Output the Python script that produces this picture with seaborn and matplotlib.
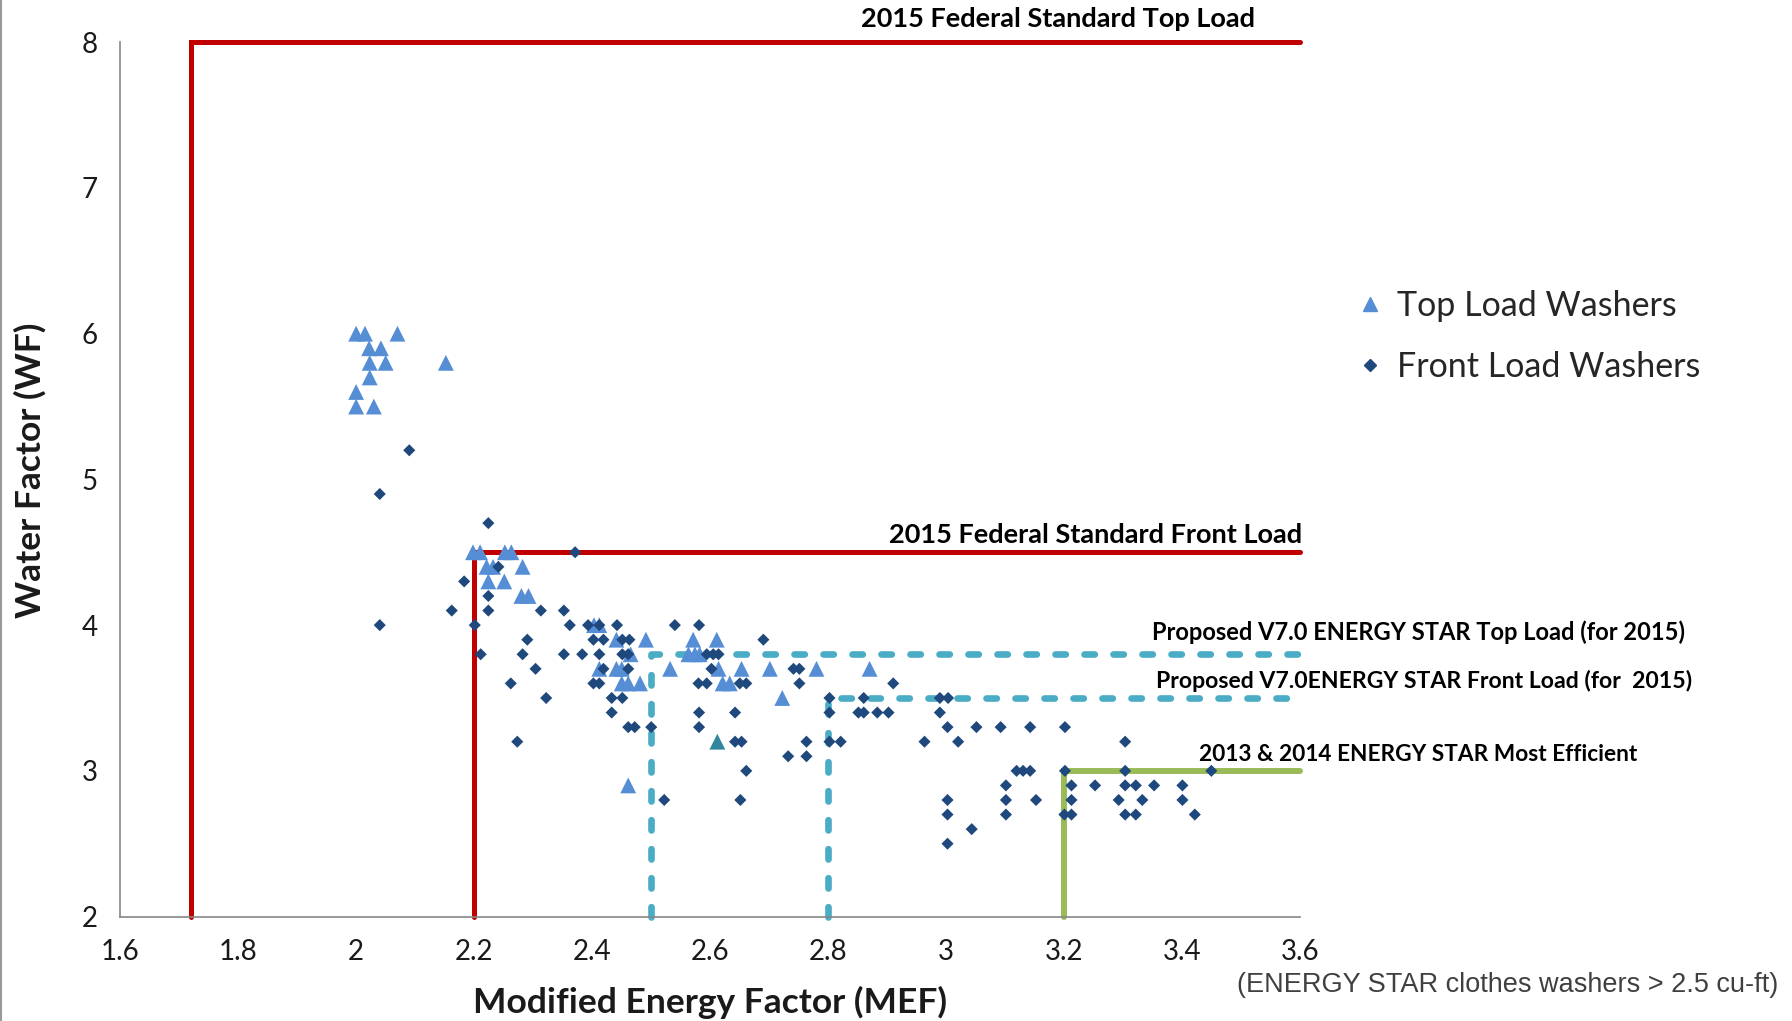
#!/usr/bin/env python3
"""
Clothes washers: Water Factor vs Modified Energy Factor with standard thresholds
"""

import numpy as np
import pandas as pd
import matplotlib
matplotlib.use('Agg')
import matplotlib.pyplot as plt
import seaborn as sns
from matplotlib.lines import Line2D

# Top load washers (triangles)
top_mef = [2.00, 2.015, 2.07, 2.022, 2.042, 2.023, 2.05, 2.152, 2.023, 2.00, 2.00, 2.03,
           2.198, 2.21, 2.252, 2.263, 2.221, 2.232, 2.282, 2.224, 2.251, 2.28, 2.292,
           2.403, 2.412, 2.441, 2.491, 2.571, 2.611, 2.465, 2.563, 2.574, 2.582,
           2.412, 2.441, 2.45, 2.532, 2.614, 2.653, 2.701, 2.78, 2.87,
           2.45, 2.461, 2.481, 2.621, 2.633, 2.722, 2.461]
top_wf = [6.0, 6.0, 6.0, 5.9, 5.9, 5.8, 5.8, 5.8, 5.7, 5.6, 5.5, 5.5,
          4.5, 4.5, 4.5, 4.5, 4.4, 4.4, 4.4, 4.3, 4.3, 4.2, 4.2,
          4.0, 4.0, 3.9, 3.9, 3.9, 3.9, 3.8, 3.8, 3.8, 3.8,
          3.7, 3.7, 3.7, 3.7, 3.7, 3.7, 3.7, 3.7, 3.7,
          3.6, 3.6, 3.6, 3.6, 3.6, 3.5, 2.9]

# one top load unit drawn in a darker teal
teal_mef = [2.612]
teal_wf = [3.2]

# Front load washers (diamonds)
front_mef = [2.09, 2.04, 2.04, 2.224, 2.371, 2.241, 2.183, 2.224,
             2.162, 2.224, 2.313, 2.352,
             2.201, 2.362, 2.393, 2.412, 2.442, 2.54, 2.581,
             2.29, 2.402, 2.419, 2.451, 2.463, 2.69,
             2.211, 2.282, 2.352, 2.383, 2.412, 2.451, 2.461, 2.594, 2.605, 2.614,
             2.304, 2.419, 2.461, 2.602, 2.741, 2.751,
             2.262, 2.402, 2.412, 2.58, 2.594, 2.65, 2.661, 2.751, 2.91,
             2.322, 2.433, 2.451, 2.802, 2.86, 2.989, 3.003,
             2.433, 2.581, 2.642, 2.802, 2.851, 2.86, 2.883, 2.902, 2.989,
             2.461, 2.472, 2.50, 2.581, 3.002, 3.051, 3.092, 3.142, 3.201,
             2.273, 2.642, 2.653, 2.763, 2.802, 2.821, 2.963, 3.02, 3.303,
             2.732, 2.763,
             2.661, 3.119, 3.13, 3.142, 3.201, 3.303, 3.449,
             3.101, 3.212, 3.252, 3.303, 3.321, 3.352, 3.40,
             2.522, 2.651, 3.002, 3.101, 3.152, 3.212, 3.292, 3.332, 3.40,
             3.002, 3.101, 3.20, 3.212, 3.303, 3.321, 3.421,
             3.043, 3.002]
front_wf = [5.2, 4.9, 4.0, 4.7, 4.5, 4.4, 4.3, 4.2,
            4.1, 4.1, 4.1, 4.1,
            4.0, 4.0, 4.0, 4.0, 4.0, 4.0, 4.0,
            3.9, 3.9, 3.9, 3.9, 3.9, 3.9,
            3.8, 3.8, 3.8, 3.8, 3.8, 3.8, 3.8, 3.8, 3.8, 3.8,
            3.7, 3.7, 3.7, 3.7, 3.7, 3.7,
            3.6, 3.6, 3.6, 3.6, 3.6, 3.6, 3.6, 3.6, 3.6,
            3.5, 3.5, 3.5, 3.5, 3.5, 3.5, 3.5,
            3.4, 3.4, 3.4, 3.4, 3.4, 3.4, 3.4, 3.4, 3.4,
            3.3, 3.3, 3.3, 3.3, 3.3, 3.3, 3.3, 3.3, 3.3,
            3.2, 3.2, 3.2, 3.2, 3.2, 3.2, 3.2, 3.2, 3.2,
            3.1, 3.1,
            3.0, 3.0, 3.0, 3.0, 3.0, 3.0, 3.0,
            2.9, 2.9, 2.9, 2.9, 2.9, 2.9, 2.9,
            2.8, 2.8, 2.8, 2.8, 2.8, 2.8, 2.8, 2.8, 2.8,
            2.7, 2.7, 2.7, 2.7, 2.7, 2.7, 2.7,
            2.6, 2.5]

# Standard thresholds (MEF minimum, WF maximum)
std_names = ['2015 Federal Standard Top Load',
             '2015 Federal Standard Front Load',
             'Proposed V7.0 ENERGY STAR Top Load (for 2015)',
             'Proposed V7.0ENERGY STAR Front Load (for  2015)',
             '2013 & 2014 ENERGY STAR Most Efficient']
std_mef = [1.72, 2.2, 2.5, 2.8, 3.2]
std_wf = [8.0, 4.5, 3.8, 3.5, 3.0]

x_ticks = [1.6, 1.8, 2.0, 2.2, 2.4, 2.6, 2.8, 3.0, 3.2, 3.4, 3.6]
x_tick_labels = ['1.6', '1.8', '2', '2.2', '2.4', '2.6', '2.8', '3', '3.2', '3.4', '3.6']
y_ticks = [2, 3, 4, 5, 6, 7, 8]

sns.set_style('white')
plt.rcParams['font.family'] = ['Lato', 'DejaVu Sans']

RED = '#C00000'
TEAL = '#4BACC6'
GREEN = '#9BBB59'
std_styles = [
    dict(color=RED, lw=3.6, ls='-'),
    dict(color=RED, lw=3.6, ls='-'),
    dict(color=TEAL, lw=4.8, dashes=(1.55, 2.8), dash_capstyle='round'),
    dict(color=TEAL, lw=4.8, dashes=(1.55, 2.8), dash_capstyle='round'),
    dict(color=GREEN, lw=4.3, ls='-'),
]
# label anchor (center) positions in data units, and sizes
label_pos = [(3.19, 8.16), (3.253, 4.62), (3.80, 3.95), (3.81, 3.615), (3.80, 3.113)]
label_size = [19.5, 19.5, 17, 16.6, 16.3]

fig = plt.figure(figsize=(17.92, 10.21), dpi=100)
ax = fig.add_axes([0.067, 0.1023, 0.6587, 0.8563])

xmin, xmax = 1.6, 3.6
ymin, ymax = 2, 8
ax.set_xlim(xmin, xmax)
ax.set_ylim(ymin, ymax)

# threshold lines: vertical from the bottom, then across to the right edge
for mef, wf, st in zip(std_mef, std_wf, std_styles):
    ax.plot([mef, mef, xmax], [ymin, wf, wf], zorder=2, clip_on=False,
            solid_joinstyle='miter', **st)

for name, (lx, ly), fs in zip(std_names, label_pos, label_size):
    ax.text(lx, ly, name, ha='center', va='center', fontsize=fs,
            fontweight='bold', color='black', clip_on=False)

top_df = pd.DataFrame({'MEF': top_mef, 'WF': top_wf})
front_df = pd.DataFrame({'MEF': front_mef, 'WF': front_wf})

sns.scatterplot(data=top_df, x='MEF', y='WF', marker='^', s=130, color='#558ED5',
                edgecolor='none', ax=ax, zorder=3, legend=False)
sns.scatterplot(x=teal_mef, y=teal_wf, marker='^', s=130, color='#31859C',
                edgecolor='none', ax=ax, zorder=3, legend=False)
sns.scatterplot(data=front_df, x='MEF', y='WF', marker='D', s=38, color='#1F497D',
                edgecolor='none', ax=ax, zorder=4, legend=False)

ax.set_xticks(x_ticks)
ax.set_xticklabels(x_tick_labels)
ax.set_yticks(y_ticks)
ax.tick_params(axis='both', direction='out', length=8, width=1.2, color='#868686',
               labelsize=20, labelcolor='#1a1a1a', pad=8)
for side in ['top', 'right']:
    ax.spines[side].set_visible(False)
for side in ['left', 'bottom']:
    ax.spines[side].set_color('#868686')
    ax.spines[side].set_linewidth(1.2)

ax.set_xlabel('Modified Energy Factor (MEF)', fontsize=25.5, fontweight='bold', color='#1a1a1a')
ax.set_ylabel('Water Factor (WF)', fontsize=25.5, fontweight='bold', color='#1a1a1a')
ax.xaxis.set_label_coords(0.5, -0.079)
ax.yaxis.set_label_coords(-0.062, 0.51)

handles = [
    Line2D([], [], marker='^', ls='none', color='#558ED5', markersize=10),
    Line2D([], [], marker='D', ls='none', color='#1F497D', markersize=6),
]
fig.legend(handles, ['Top Load Washers', 'Front Load Washers'],
           loc='upper left', bbox_to_anchor=(0.738, 0.746), frameon=False,
           fontsize=24.5, handletextpad=0.3, labelspacing=0.84, handlelength=1.0)

fig.text(0.8413, 0.0352, '(ENERGY STAR clothes washers > 2.5 cu-ft)',
         ha='center', va='center', fontsize=19.5, color='#404040',
         family=['Liberation Sans', 'DejaVu Sans'])

# thin slide border on the left
fig.add_artist(Line2D([0.0008, 0.0008], [0, 1], color='#9a9a9a', lw=1.5,
                      transform=fig.transFigure))

fig.savefig('out.png', dpi=100)
